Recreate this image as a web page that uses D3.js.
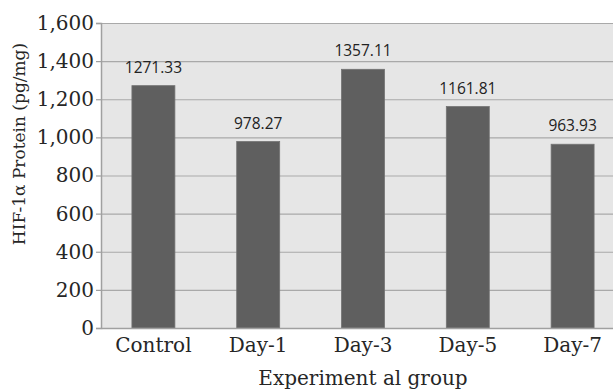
<!DOCTYPE html>
<html>
<head>
<meta charset="utf-8">
<script src="https://cdn.jsdelivr.net/npm/d3@7"></script>
<style>
  body { margin: 0; background: #fff; }
  svg { display: block; }
</style>
</head>
<body>
<svg id="chart" width="613" height="390"></svg>
<script>
// Grupos e valores de HIF-1α
const GROUPS = ["Control", "Day-1", "Day-3", "Day-5", "Day-7"];
const VALUES = [1271.33, 978.27, 1357.11, 1161.81, 963.93];
const LABELS = ["1271.33", "978.27", "1357.11", "1161.81", "963.93"];
const Y_TICKS = [0, 200, 400, 600, 800, 1000, 1200, 1400, 1600];

const data = GROUPS.map((g, i) => ({ group: g, value: VALUES[i], label: LABELS[i] }));

const svg = d3.select("#chart");
// a área de plotagem vai além da borda direita, como no original (cortada)
const margin = { top: 23, right: -12, bottom: 62, left: 101 };
const W = 613 - margin.left - margin.right;
const H = 390 - margin.top - margin.bottom;
const g = svg.append("g").attr("transform", `translate(${margin.left},${margin.top})`);

const x = d3.scaleBand().domain(GROUPS).range([0, W]).paddingInner(0.59).paddingOuter(0.295);
const y = d3.scaleLinear().domain([0, 1600]).range([H, 0]);

g.append("rect").attr("width", W).attr("height", H).attr("fill", "#e6e6e6");

// grade horizontal
g.append("g")
  .call(d3.axisLeft(y).tickValues(Y_TICKS).tickSize(-W).tickFormat(""))
  .call((gg) => gg.select(".domain").remove())
  .selectAll("line").attr("stroke", "#a9a9a9").attr("stroke-width", 1.2);

// barras
g.selectAll(".bar").data(data).join("rect")
  .attr("class", "bar")
  .attr("x", (d) => x(d.group))
  .attr("width", x.bandwidth())
  .attr("y", (d) => y(d.value))
  .attr("height", (d) => H - y(d.value))
  .attr("fill", "#5f5f5f")
  .attr("stroke", "#737373").attr("stroke-width", 0.8);

// rótulos de valor
g.selectAll(".lbl").data(data).join("text")
  .attr("class", "lbl")
  .attr("x", (d) => x(d.group) + x.bandwidth() / 2)
  .attr("y", (d) => y(d.value) - 13)
  .attr("text-anchor", "middle")
  .style("font-family", "'Open Sans', sans-serif").style("font-size", "15.5px").style("fill", "#222")
  .text((d) => d.label);

// eixo Y
const yAxis = g.append("g")
  .call(d3.axisLeft(y).tickValues(Y_TICKS).tickSize(5).tickPadding(2).tickFormat(d3.format(",")));
yAxis.select(".domain").attr("stroke", "#a0a0a0").attr("stroke-width", 1.5);
yAxis.selectAll("line").attr("stroke", "#a0a0a0").attr("stroke-width", 1.2);
yAxis.selectAll("text")
  .style("font-family", "'DejaVu Serif', serif").style("font-size", "20px").style("fill", "#262626");

// eixo X
const xAxis = g.append("g").attr("transform", `translate(0,${H})`)
  .call(d3.axisBottom(x).tickSize(0).tickPadding(10));
xAxis.select(".domain").attr("stroke", "#a0a0a0").attr("stroke-width", 1.5);
xAxis.selectAll("text")
  .style("font-family", "'DejaVu Serif', serif").style("font-size", "20px").style("fill", "#262626");

// títulos dos eixos
svg.append("text")
  .attr("transform", "translate(25,144) rotate(-90)")
  .attr("text-anchor", "middle")
  .style("font-family", "'DejaVu Serif', serif").style("font-size", "17px").style("fill", "#262626")
  .text("HIF-1α Protein (pg/mg)");
svg.append("text")
  .attr("x", margin.left + W / 2).attr("y", 385)
  .attr("text-anchor", "middle")
  .style("font-family", "'DejaVu Serif', serif").style("font-size", "20px").style("fill", "#262626")
  .text("Experiment al group");
</script>
</body>
</html>
